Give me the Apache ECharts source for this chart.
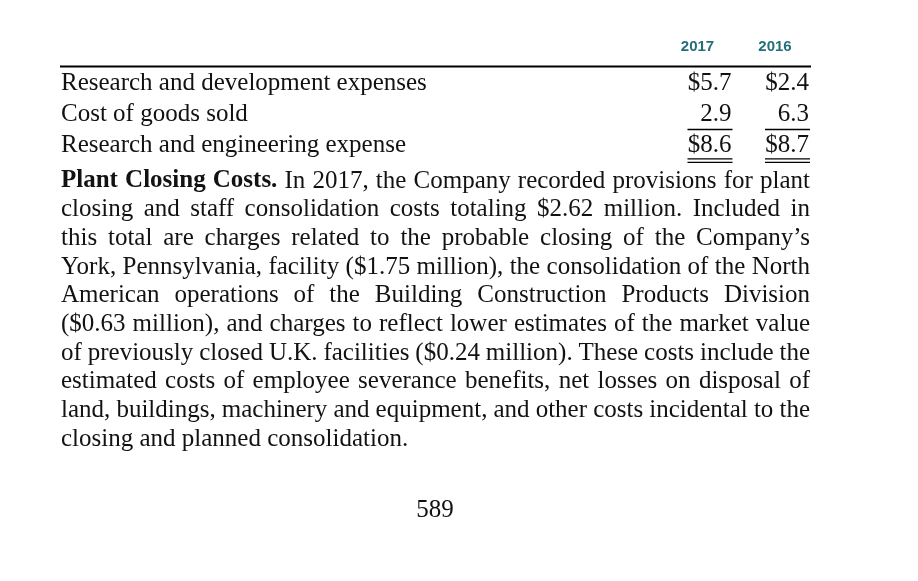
<!DOCTYPE html>
<html>
<head>
<meta charset="utf-8">
<style>
  html, body { margin: 0; padding: 0; background: #fff; }
  #main { width: 918px; height: 581px; }
</style>
<script src="https://cdn.jsdelivr.net/npm/echarts@6/dist/echarts.min.js"></script>
</head>
<body>
<div id="main"></div>
<script>
// table data
var years = ['2017', '2016'];
var rowLabels = [
	'Research and development expenses',
	'Cost of goods sold',
	'Research and engineering expense'
];
var values2017 = [5.7, 2.9, 8.6];
var values2016 = [2.4, 6.3, 8.7];

// note text
var leadIn = 'Plant Closing Costs.';
var paragraphLines = [
	'Plant Closing Costs. In 2017, the Company recorded provisions for plant',
	'closing and staff consolidation costs totaling $2.62 million. Included in',
	'this total are charges related to the probable closing of the Company\u2019s',
	'York, Pennsylvania, facility ($1.75 million), the consolidation of the North',
	'American operations of the Building Construction Products Division',
	'($0.63 million), and charges to reflect lower estimates of the market value',
	'of previously closed U.K. facilities ($0.24 million). These costs include the',
	'estimated costs of employee severance benefits, net losses on disposal of',
	'land, buildings, machinery and equipment, and other costs incidental to the',
	'closing and planned consolidation.'
];
var pageNumber = '589';

var ink = '#121212';
var teal = '#246e7b';
var serif = '"Liberation Serif", "Times New Roman", serif';
var bodyFont = '25px ' + serif;
var boldFont = 'bold 25px ' + serif;

var ctx = document.createElement('canvas').getContext('2d');
function textWidth(s, font) {
	ctx.font = font;
	return ctx.measureText(s).width;
}

// lay out the paragraph: justify lines, tighten spaces (then squeeze) when too long
function buildParagraph() {
	var left = 61, right = 810, top = 181, lineGap = 28.7;
	var target = right - left;
	var leadCount = leadIn.split(' ').length;
	var spaceW = textWidth(' ', bodyFont);
	var minGap = spaceW * 0.55;
	var out = [];

	paragraphLines.forEach(function (line, i) {
		var y = top + i * lineGap;
		var isLast = i === paragraphLines.length - 1;
		var words = line.split(' ').map(function (w, k) {
			var f = (i === 0 && k < leadCount) ? boldFont : bodyFont;
			return { text: w, font: f, width: textWidth(w, f) };
		});
		var sum = 0;
		words.forEach(function (w) { sum += w.width; });

		var scale = 1, gap = spaceW;
		if (!isLast) {
			gap = (target - sum) / (words.length - 1);
			if (gap < minGap) {
				gap = minGap;
				scale = target / (sum + gap * (words.length - 1));
			}
		}

		var x = 0;
		words.forEach(function (w) {
			out.push({
				type: 'text',
				x: left + x * scale,
				y: y,
				scaleX: scale,
				silent: true,
				style: { text: w.text, font: w.font, fill: ink, align: 'left', verticalAlign: 'middle' }
			});
			x += w.width + gap;
		});
	});
	return out;
}

var cells = [];
values2017.forEach(function (v, r) { cells.push([0, r, v]); });
values2016.forEach(function (v, r) { cells.push([1, r, v]); });

var lastRow = rowLabels.length - 1;

var chart = echarts.init(document.getElementById('main'));

var graphics = [
	{
		type: 'line',
		silent: true,
		shape: { x1: 60, y1: 66.5, x2: 811, y2: 66.5 },
		style: { stroke: '#000', lineWidth: 2 }
	},
	{
		type: 'text',
		x: 435,
		y: 510,
		silent: true,
		style: { text: pageNumber, font: bodyFont, fill: ink, align: 'center', verticalAlign: 'middle' }
	}
].concat(buildParagraph());

chart.setOption({
	backgroundColor: '#fff',
	animation: false,
	grid: {
		left: 658.75,
		top: 68.4,
		width: 155,
		height: 93,
		outerBoundsMode: 'none',
		containLabel: false
	},
	xAxis: {
		type: 'category',
		position: 'top',
		data: years,
		axisLine: { show: false },
		axisTick: { show: false },
		splitLine: { show: false },
		axisLabel: {
			interval: 0,
			color: teal,
			fontWeight: 'bold',
			fontFamily: '"Liberation Sans", Arial, sans-serif',
			fontSize: 15,
			margin: 21.5,
			verticalAlign: 'middle'
		}
	},
	yAxis: {
		type: 'category',
		inverse: true,
		data: rowLabels,
		axisLine: { show: false },
		axisTick: { show: false },
		splitLine: { show: false },
		axisLabel: {
			interval: 0,
			hideOverlap: false,
			color: ink,
			fontFamily: serif,
			fontSize: 25,
			align: 'left',
			margin: 597.75
		}
	},
	series: [{
		type: 'custom',
		coordinateSystem: 'cartesian2d',
		encode: { x: 0, y: 1 },
		data: cells,
		silent: true,
		renderItem: function (params, api) {
			var row = api.value(1);
			var v = api.value(2);
			var pt = api.coord([api.value(0), row]);
			var right = pt[0] + 34;
			var label = (row === 0 || row === lastRow) ? '$' + v.toFixed(1) : v.toFixed(1);
			var children = [{
				type: 'text',
				x: right,
				y: pt[1],
				style: { text: label, font: bodyFont, fill: ink, align: 'right', verticalAlign: 'middle' }
			}];
			var ulLeft = right - 44, ulRight = right + 1;
			if (row === lastRow - 1) {
				children.push({
					type: 'line',
					shape: { x1: ulLeft, y1: pt[1] + 14.6, x2: ulRight, y2: pt[1] + 14.6 },
					style: { stroke: '#000', lineWidth: 1.3 }
				});
			}
			if (row === lastRow) {
				[13, 16.4].forEach(function (d) {
					children.push({
						type: 'line',
						shape: { x1: ulLeft, y1: pt[1] + d, x2: ulRight, y2: pt[1] + d },
						style: { stroke: '#000', lineWidth: 1.2 }
					});
				});
			}
			return { type: 'group', children: children };
		}
	}],
	graphic: { elements: graphics }
});

window.addEventListener('resize', function () {
	chart.resize();
});
</script>
</body>
</html>
